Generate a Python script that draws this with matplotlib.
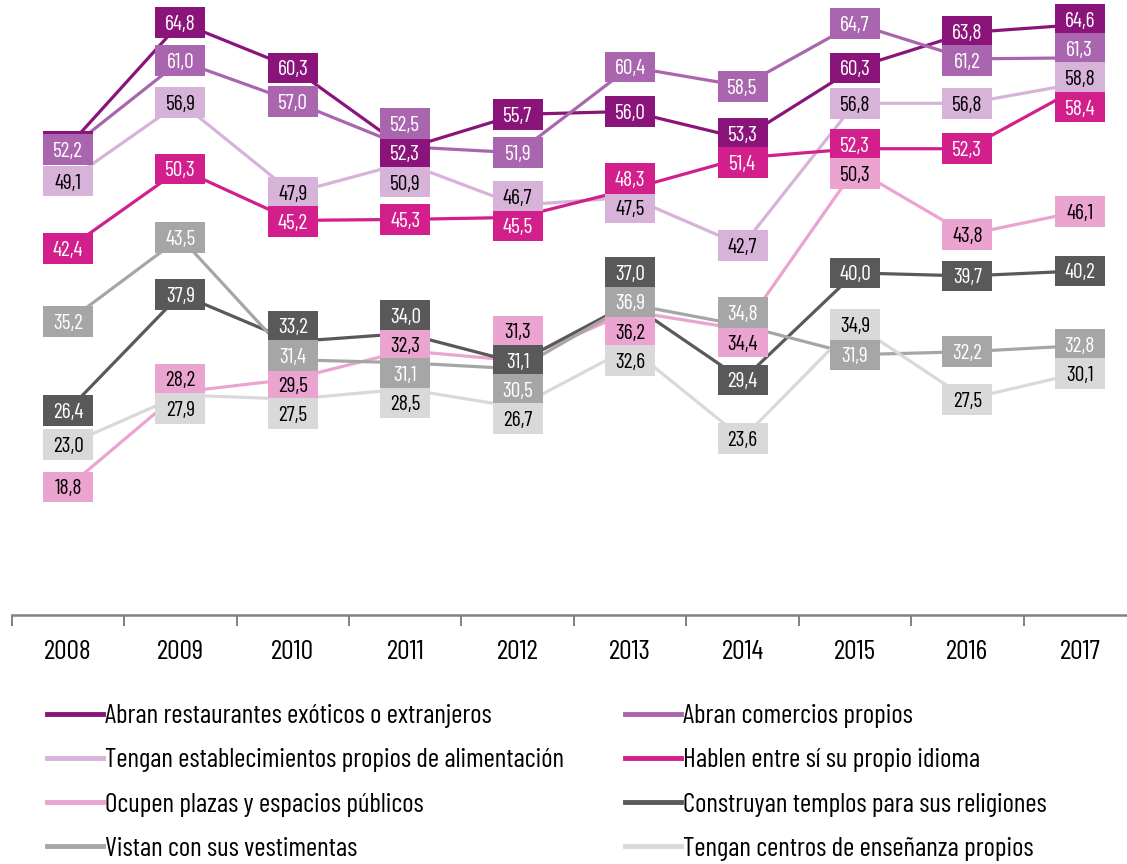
import matplotlib
matplotlib.use("Agg")
import matplotlib.pyplot as plt
from matplotlib.patches import Rectangle
from matplotlib.lines import Line2D
from matplotlib import font_manager

# ---- data -------------------------------------------------------------
years = [2008, 2009, 2010, 2011, 2012, 2013, 2014, 2015, 2016, 2017]

series_names = [
    "Abran restaurantes exóticos o extranjeros",
    "Abran comercios propios",
    "Tengan establecimientos propios de alimentación",
    "Hablen entre sí su propio idioma",
    "Ocupen plazas y espacios públicos",
    "Construyan templos para sus religiones",
    "Vistan con sus vestimentas",
    "Tengan centros de enseñanza propios",
]

restaurantes = [52.5, 64.8, 60.3, 52.3, 55.7, 56.0, 53.3, 60.3, 63.8, 64.6]
comercios = [52.2, 61.0, 57.0, 52.5, 51.9, 60.4, 58.5, 64.7, 61.2, 61.3]
alimentacion = [49.1, 56.9, 47.9, 50.9, 46.7, 47.5, 42.7, 56.8, 56.8, 58.8]
idioma = [42.4, 50.3, 45.2, 45.3, 45.5, 48.3, 51.4, 52.3, 52.3, 58.4]
plazas = [18.8, 28.2, 29.5, 32.3, 31.3, 36.2, 34.4, 50.3, 43.8, 46.1]
templos = [26.4, 37.9, 33.2, 34.0, 31.1, 37.0, 29.4, 40.0, 39.7, 40.2]
vestimentas = [35.2, 43.5, 31.4, 31.1, 30.5, 36.9, 34.8, 31.9, 32.2, 32.8]
ensenanza = [23.0, 27.9, 27.5, 28.5, 26.7, 32.6, 23.6, 34.9, 27.5, 30.1]

series_values = [restaurantes, comercios, alimentacion, idioma,
                 plazas, templos, vestimentas, ensenanza]

# ---- styling ----------------------------------------------------------
series_colors = ["#8a1479", "#a966ae", "#d7b3da", "#d21f8c",
                 "#eba3cf", "#595959", "#a6a6a6", "#d9d9d9"]
text_colors = ["white", "white", "black", "white",
               "black", "white", "white", "black"]

available = {f.name for f in font_manager.fontManager.ttflist}
family = [f for f in ["Barlow Condensed", "Roboto Condensed", "DejaVu Sans"]
          if f in available]
plt.rcParams["font.family"] = family

# the 2008 restaurant box sits underneath the "comercios" box
tucked_labels = {(0, 0)}

BOX_W = 0.445   # category units
BOX_H = 3.05    # value units
SEP = 2.9       # minimum vertical spacing between label centres


def spread(values, sep):
    """Pool overlapping labels into evenly spaced stacks around their mean."""
    order = sorted(range(len(values)), key=lambda i: -values[i])
    pos = {i: values[i] for i in order}
    clusters = [[i] for i in order]
    changed = True
    while changed:
        changed = False
        merged_list = [clusters[0]]
        for c in clusters[1:]:
            prev = merged_list[-1]
            if pos[prev[-1]] - pos[c[0]] < sep - 1e-9:
                grp = prev + c
                centre = sum(values[j] for j in grp) / len(grp)
                n = len(grp)
                for k, j in enumerate(grp):
                    pos[j] = centre + (n - 1) / 2 * sep - k * sep
                merged_list[-1] = grp
                changed = True
            else:
                merged_list.append(c)
        clusters = merged_list
    return pos


fig = plt.figure(figsize=(11.27, 8.64), dpi=100)
W, H = 1127, 864
ax_left, ax_right = 11.8, 1136.0
ax_top, ax_bottom = 0.0, 615.0
ax = fig.add_axes([ax_left / W, (H - ax_bottom) / H,
                   (ax_right - ax_left) / W, (ax_bottom - ax_top) / H])
ax.set_xlim(-0.5, len(years) - 0.5)
ax.set_ylim(6.12, 67.03)

x = list(range(len(years)))
for i, vals in enumerate(series_values):
    ax.plot(x, vals, color=series_colors[i], lw=2.3, zorder=2,
            solid_capstyle="butt", solid_joinstyle="miter")

# value labels in coloured boxes
for xi in x:
    vals_here = []
    idx_here = []
    for si, vals in enumerate(series_values):
        if (si, xi) in tucked_labels:
            continue
        vals_here.append(vals[xi])
        idx_here.append(si)
    placed = spread(vals_here, SEP)
    label_y = {idx_here[k]: placed[k] for k in range(len(idx_here))}
    for si, vals in enumerate(series_values):
        yv = label_y.get(si, vals[xi])
        z = 3 + si * 0.1
        ax.add_patch(Rectangle((xi - BOX_W / 2, yv - BOX_H / 2), BOX_W, BOX_H,
                               facecolor=series_colors[si], edgecolor="none",
                               zorder=z))
        if (si, xi) in tucked_labels:
            continue
        ax.text(xi, yv, f"{vals[xi]:.1f}".replace(".", ","),
                ha="center", va="center_baseline", fontsize=15.5,
                color=text_colors[si], zorder=z + 0.05)

# axis styling
for side in ["left", "right", "top"]:
    ax.spines[side].set_visible(False)
ax.spines["bottom"].set_color("#808080")
ax.spines["bottom"].set_linewidth(1.8)
ax.set_yticks([])
ax.set_xticks(x)
ax.set_xticklabels([str(y) for y in years], fontsize=20)
ax.set_xticks([v - 0.5 for v in range(len(years) + 1)], minor=True)
ax.tick_params(axis="x", which="major", length=0, pad=18)
ax.tick_params(axis="x", which="minor", length=8, width=1.4, color="#808080")

# legend in two columns
fs = 19.5
handles = [Line2D([], [], color=c, lw=3.5) for c in series_colors]
for col, x0 in enumerate([47, 625]):
    ids = list(range(col, len(series_names), 2))
    fig.legend([handles[k] for k in ids], [series_names[k] for k in ids],
               loc="upper left", bbox_to_anchor=(x0 / W, 1 - 704 / H),
               frameon=False, fontsize=fs, handlelength=2.05,
               handletextpad=0.08, labelspacing=0.75, borderpad=0,
               borderaxespad=0)

fig.savefig("out.png", dpi=100)
